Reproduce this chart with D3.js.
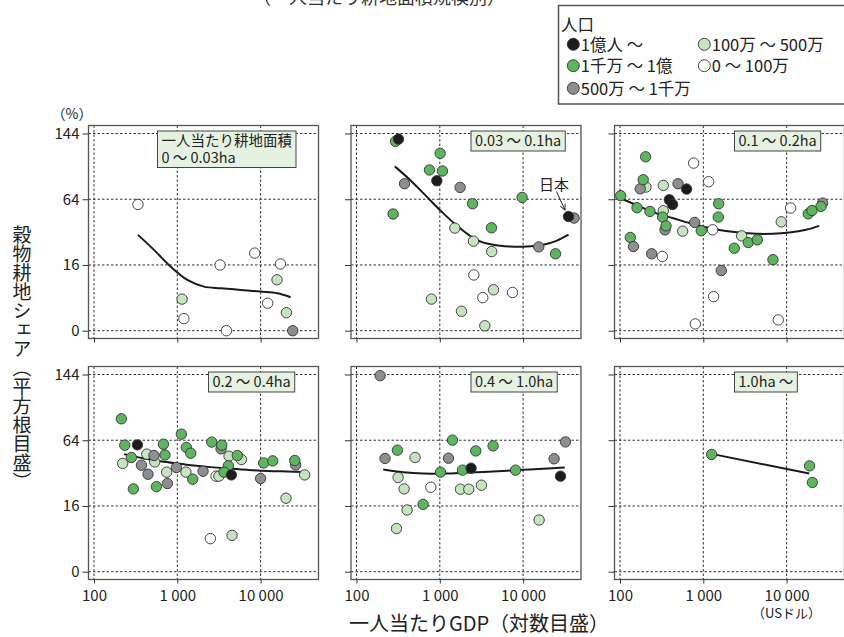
<!DOCTYPE html>
<html>
<head>
<meta charset="utf-8">
<script src="https://cdn.jsdelivr.net/npm/d3@7"></script>
<style>
  html, body { margin: 0; padding: 0; background: #fff; }
  svg { display: block; font-family: "Noto Sans CJK JP", "Noto Sans", sans-serif; }
</style>
</head>
<body>
<svg id="chart" width="844" height="637"></svg>
<script>
// ---- data -------------------------------------------------------------
// population classes, legend order
const popClasses = ["1億人 ～", "1千万 ～ 1億", "500万 ～ 1千万", "100万 ～ 500万", "0 ～ 100万"];
const popColors  = ["#1c1c1c", "#5cb65e", "#8d8e91", "#c6e4c0", "#ffffff"];

// arable land per person, one panel each
const panelLabels = [
  ["一人当たり耕地面積", "0 ～ 0.03ha"],
  ["0.03 ～ 0.1ha"],
  ["0.1 ～ 0.2ha"],
  ["0.2 ～ 0.4ha"],
  ["0.4 ～ 1.0ha"],
  ["1.0ha ～"]
];

const xTicks = [100, 1000, 10000];
const xTickLabels = ["100", "1 000", "10 000"];
const yTicks = [0, 16, 64, 144];

// countries: [GDP per capita (US$), grain share of arable land (%), population class]
const pts0to003 = [
  [337, 59, 4], [1140, 3.7, 3], [1200, 0.54, 4], [3260, 16, 4], [3890, 0, 4],
  [8490, 22.3, 4], [12160, 2.8, 4], [17300, 16.5, 4], [15740, 9.6, 3],
  [20400, 1.2, 3], [24300, 0, 2]
];
const pts003to01 = [
  [294, 132.8, 1], [319, 136, 0], [1009, 116.5, 1], [751, 95.7, 1], [1076, 94.5, 1],
  [921, 83.3, 0], [377, 80, 2], [1754, 76, 2], [2472, 59.7, 1], [9730, 65.8, 1],
  [40900, 47, 2], [35080, 48.3, 0], [275, 50.4, 1], [1514, 39, 3], [4170, 39.2, 1],
  [2535, 29.7, 3], [4200, 23.2, 3], [15420, 26, 2], [24500, 21.9, 1], [2560, 11.5, 4],
  [4420, 6.2, 3], [3280, 4.05, 4], [7460, 5.4, 4], [794, 3.7, 3], [1820, 1.4, 3],
  [3470, 0.09, 3]
];
const pts01to02 = [
  [102, 67.5, 1], [203, 112, 1], [205, 76.4, 3], [175, 74.6, 2], [190, 84.4, 1],
  [331, 78.2, 3], [497, 80, 2], [630, 74.3, 0], [766, 104, 4], [1159, 82.2, 4],
  [391, 63.5, 0], [428, 59, 0], [160, 56, 1], [229, 52.7, 1], [331, 53.3, 3],
  [325, 47.8, 1], [347, 37.7, 2], [357, 40.7, 1], [787, 43.4, 2], [565, 36.7, 3],
  [946, 37, 1], [1294, 37.7, 4], [1528, 59.7, 1], [1514, 47.8, 1], [133, 32.2, 1],
  [145, 26.2, 2], [240, 21.9, 2], [322, 20.4, 4], [1644, 13.4, 2], [1330, 4.3, 4],
  [802, 0.17, 4], [2884, 33.3, 3], [2355, 25.2, 1], [3467, 28.8, 1], [4446, 30.6, 1],
  [6855, 18.7, 1], [8630, 43.9, 3], [11170, 55.7, 4], [7940, 0.43, 4],
  [27040, 60.3, 2], [25880, 57.2, 1], [18200, 50.6, 1], [20180, 53.5, 1]
];
const pts02to04 = [
  [213, 86.6, 1], [234, 59.3, 1], [332, 59.6, 0], [221, 43.4, 3], [281, 48.3, 1],
  [430, 51.2, 3], [536, 44.6, 3], [371, 42, 2], [525, 50, 2], [445, 35.2, 2],
  [297, 25.4, 1], [561, 26.8, 1], [681, 60.2, 1], [711, 50.5, 1], [746, 36.7, 3],
  [760, 28.8, 2], [975, 40.2, 2], [1119, 70.1, 1], [1285, 57.2, 1], [1449, 52, 1],
  [1270, 36.7, 3], [1531, 31.7, 1], [2037, 37.4, 2], [2590, 62.2, 1], [3350, 55.9, 2],
  [3413, 59.3, 1], [4180, 49.4, 3], [5875, 46.6, 3], [5260, 50, 1], [4100, 41.5, 1],
  [2917, 33.8, 4], [3160, 33.8, 3], [3640, 36.7, 1], [4460, 34.7, 0], [10000, 32.2, 2],
  [10880, 43.8, 1], [13960, 45.5, 1], [26370, 42.2, 2], [25700, 45.8, 1],
  [33800, 34.7, 3], [20180, 20, 3], [2495, 4.05, 4], [4540, 4.9, 3]
];
const pts04to10 = [
  [192, 142.3, 2], [220, 47.5, 2], [310, 54.7, 1], [505, 48.3, 3], [316, 32.9, 3],
  [373, 25.4, 3], [405, 14.1, 3], [302, 6.9, 3], [631, 16.8, 1], [780, 26.4, 4],
  [1019, 36.7, 1], [1270, 47.7, 2], [1419, 64.1, 1], [1870, 38.2, 1], [2375, 39.7, 0],
  [1770, 25.2, 3], [2228, 25.2, 3], [3162, 27.7, 3], [2704, 54, 1], [4365, 58.6, 1],
  [8110, 38.2, 1], [15560, 9.9, 3], [23550, 47.2, 2], [32280, 62.4, 2], [28120, 33.8, 0]
];
const pts10up = [
  [1259, 50.9, 1], [18880, 41.5, 1], [20370, 29.5, 1]
];

// smoothed trend per panel: [GDP per capita, share]
const fit0to003 = [
  [337, 34.0], [525, 24.2], [834, 15.2], [1321, 9.56], [2094, 7.2], [3320, 6.68],
  [5770, 6.16], [10000, 5.66], [15850, 5.2], [22900, 4.15]
];
const fit003to01 = [
  [288, 100], [437, 84.4], [692, 66.8], [1096, 51.2], [1738, 39], [2754, 30.6],
  [4365, 27.3], [6918, 26.2], [10960, 26.2], [17380, 27.3], [25120, 29.9], [35080, 34.1]
];
const fit01to02 = [
  [107, 64.2], [171, 57.2], [270, 51.2], [428, 47], [679, 42.9], [1076, 39.7],
  [1706, 37.2], [2704, 35.7], [4285, 34.8], [6790, 34.8], [10770, 35.7], [17060, 37.7],
  [24660, 40.7]
];
const fit02to04 = [
  [229, 51.2], [398, 47.5], [631, 45.2], [1000, 43.4], [1585, 41.8], [2512, 40.5],
  [3981, 39.4], [6918, 38.4], [12020, 37.6], [20900, 37.2], [33110, 36.9]
];
const fit04to10 = [
  [209, 38.7], [363, 36.7], [631, 35.7], [1096, 35.7], [1905, 36.2], [3311, 36.9],
  [5754, 37.6], [10000, 38.4], [17380, 39.2], [31620, 40.2]
];
const fit10up = [[1259, 51.4], [18700, 35.7]];

// Japan, labelled in the 0.03–0.1ha panel
const japan = [35080, 48.3];

const panels = [
  { label: panelLabels[0], pts: pts0to003,  fit: fit0to003,  curve: d3.curveCatmullRom },
  { label: panelLabels[1], pts: pts003to01, fit: fit003to01, curve: d3.curveCatmullRom },
  { label: panelLabels[2], pts: pts01to02,  fit: fit01to02,  curve: d3.curveCatmullRom },
  { label: panelLabels[3], pts: pts02to04,  fit: fit02to04,  curve: d3.curveCatmullRom },
  { label: panelLabels[4], pts: pts04to10,  fit: fit04to10,  curve: d3.curveCatmullRom },
  { label: panelLabels[5], pts: pts10up,    fit: fit10up,    curve: d3.curveLinear }
];

// ---- layout -----------------------------------------------------------
const svg = d3.select("#chart");
const W = 230, H = 213;
const colLeft = [88.5, 351, 614.5];
const rowTop = [125.5, 366.5];
const labelOffset = [69, 120, 120, 120, 120, 120];
const textColor = "#222";

// log GDP axis, square-root share axis
const x = d3.scaleLog()
  .domain([Math.pow(10, 2 - 5.5 / 83.3), Math.pow(10, 2 + 224.5 / 83.3)])
  .range([0, W]);
const y = d3.scaleSqrt().domain([-0.2254, 155.93]).range([H, 0]);

// title line above the figure
svg.append("text")
  .attr("x", 379).attr("y", 4)
  .attr("text-anchor", "middle")
  .attr("font-size", 18).attr("fill", "#333")
  .text("（一人当たり耕地面積規模別）");

panels.forEach((p, i) => {
  const col = i % 3, row = Math.floor(i / 3);
  const g = svg.append("g").attr("transform", `translate(${colLeft[col]},${rowTop[row]})`);

  // dotted grid
  g.append("g").selectAll("line").data(xTicks).join("line")
    .attr("x1", d => x(d)).attr("x2", d => x(d))
    .attr("y1", 0).attr("y2", H)
    .attr("stroke", "#333").attr("stroke-width", 1).attr("stroke-dasharray", "2.5,2");
  g.append("g").selectAll("line").data(yTicks).join("line")
    .attr("x1", 0).attr("x2", W)
    .attr("y1", d => y(d)).attr("y2", d => y(d))
    .attr("stroke", "#333").attr("stroke-width", 1).attr("stroke-dasharray", "2.5,2");

  // frame
  g.append("rect")
    .attr("width", W).attr("height", H)
    .attr("fill", "none").attr("stroke", "#555").attr("stroke-width", 1.3);

  // axes
  const xa = d3.axisBottom(x).tickValues(xTicks).tickSize(4).tickPadding(6.5)
    .tickFormat((d, k) => row === 1 ? xTickLabels[k] : "");
  g.append("g").attr("transform", `translate(0,${H})`).call(xa)
    .call(a => a.select(".domain").remove())
    .call(a => a.attr("font-family", null).attr("font-size", null))
    .call(a => a.selectAll("line").attr("stroke", "#333"))
    .call(a => a.selectAll("text").attr("font-size", 15).attr("fill", textColor));

  const ya = d3.axisLeft(y).tickValues(yTicks).tickSize(6).tickPadding(3)
    .tickFormat(d => col === 0 ? String(d) : "");
  g.append("g").call(ya)
    .call(a => a.select(".domain").remove())
    .call(a => a.attr("font-family", null).attr("font-size", null))
    .call(a => a.selectAll("line").attr("stroke", "#333"))
    .call(a => a.selectAll("text").attr("font-size", 15).attr("fill", textColor));

  // trend line
  g.append("path")
    .datum(p.fit)
    .attr("fill", "none").attr("stroke", "#1a1a1a").attr("stroke-width", 2)
    .attr("d", d3.line().x(d => x(d[0])).y(d => y(d[1])).curve(p.curve));

  // countries
  g.append("g").selectAll("circle").data(p.pts).join("circle")
    .attr("cx", d => x(d[0])).attr("cy", d => y(d[1])).attr("r", 5.2)
    .attr("fill", d => popColors[d[2]])
    .attr("stroke", "#333").attr("stroke-width", 0.9);

  // panel label box
  const lx = labelOffset[i], ly = 5.5;
  const lg = g.append("g").attr("transform", `translate(${lx},${ly})`);
  const box = lg.append("rect");
  const lineGap = 16.5;
  const texts = lg.selectAll("text").data(p.label).join("text")
    .attr("x", 4).attr("y", (d, k) => 15 + k * lineGap)
    .attr("font-size", 14.5).attr("fill", textColor)
    .text(d => d);
  let tw = 0;
  texts.each(function () { tw = Math.max(tw, this.getComputedTextLength()); });
  box.attr("width", tw + 8).attr("height", 20 + (p.label.length - 1) * lineGap)
    .attr("fill", "#e6f2e1").attr("stroke", "#444").attr("stroke-width", 1);

  // Japan callout
  if (i === 1) {
    const jx = x(japan[0]), jy = y(japan[1]);
    svg.append("defs").append("marker")
      .attr("id", "arrow").attr("viewBox", "0 0 10 10")
      .attr("refX", 9).attr("refY", 5)
      .attr("markerWidth", 7).attr("markerHeight", 7)
      .attr("orient", "auto-start-reverse")
      .append("path").attr("d", "M1,1 L9,5 L1,9")
      .attr("fill", "none").attr("stroke", "#222").attr("stroke-width", 1.3);
    g.append("line")
      .attr("x1", jx - 12).attr("y1", jy - 25)
      .attr("x2", jx - 3.5).attr("y2", jy - 6.5)
      .attr("stroke", "#222").attr("stroke-width", 1)
      .attr("marker-end", "url(#arrow)");
    g.append("text")
      .attr("x", jx - 29.5).attr("y", jy - 26.5)
      .attr("font-size", 15).attr("fill", textColor)
      .text("日本");
  }
});

// "(%)" unit
svg.append("text")
  .attr("x", 72).attr("y", 119)
  .attr("text-anchor", "middle").attr("font-size", 14).attr("fill", textColor)
  .text("（%）");

// "(USドル)" unit
svg.append("text")
  .attr("x", colLeft[2] + x(10000)).attr("y", 618)
  .attr("text-anchor", "middle").attr("font-size", 13).attr("fill", textColor)
  .text("（USドル）");

// x axis title
svg.append("text")
  .attr("x", 479).attr("y", 631)
  .attr("text-anchor", "middle").attr("font-size", 20).attr("fill", textColor)
  .text("一人当たりGDP（対数目盛）");

// y axis title, vertical
svg.append("text")
  .attr("x", 22).attr("y", 225)
  .attr("font-size", 19).attr("fill", textColor)
  .style("writing-mode", "vertical-rl")
  .text("穀物耕地シェア（平方根目盛）");

// legend
const legend = svg.append("g");
legend.append("rect")
  .attr("x", 558.5).attr("y", 5.5).attr("width", 300).attr("height", 98.5)
  .attr("fill", "#fff").attr("stroke", "#555").attr("stroke-width", 1.5);
legend.append("text")
  .attr("x", 561).attr("y", 30.5).attr("font-size", 16.5).attr("fill", textColor)
  .text("人口");
const legendPos = [[573.3, 44.3], [573.3, 65.7], [573.3, 88.3], [704.3, 44.3], [704.3, 65.7]];
const items = legend.selectAll("g.item").data(popClasses).join("g")
  .attr("class", "item")
  .attr("transform", (d, k) => `translate(${legendPos[k][0]},${legendPos[k][1]})`);
items.append("circle")
  .attr("r", 6).attr("fill", (d, k) => popColors[k])
  .attr("stroke", "#333").attr("stroke-width", 0.9);
items.append("text")
  .attr("x", 7.5).attr("y", 6.3).attr("font-size", 16.5).attr("fill", textColor)
  .text(d => d);
</script>
</body>
</html>
